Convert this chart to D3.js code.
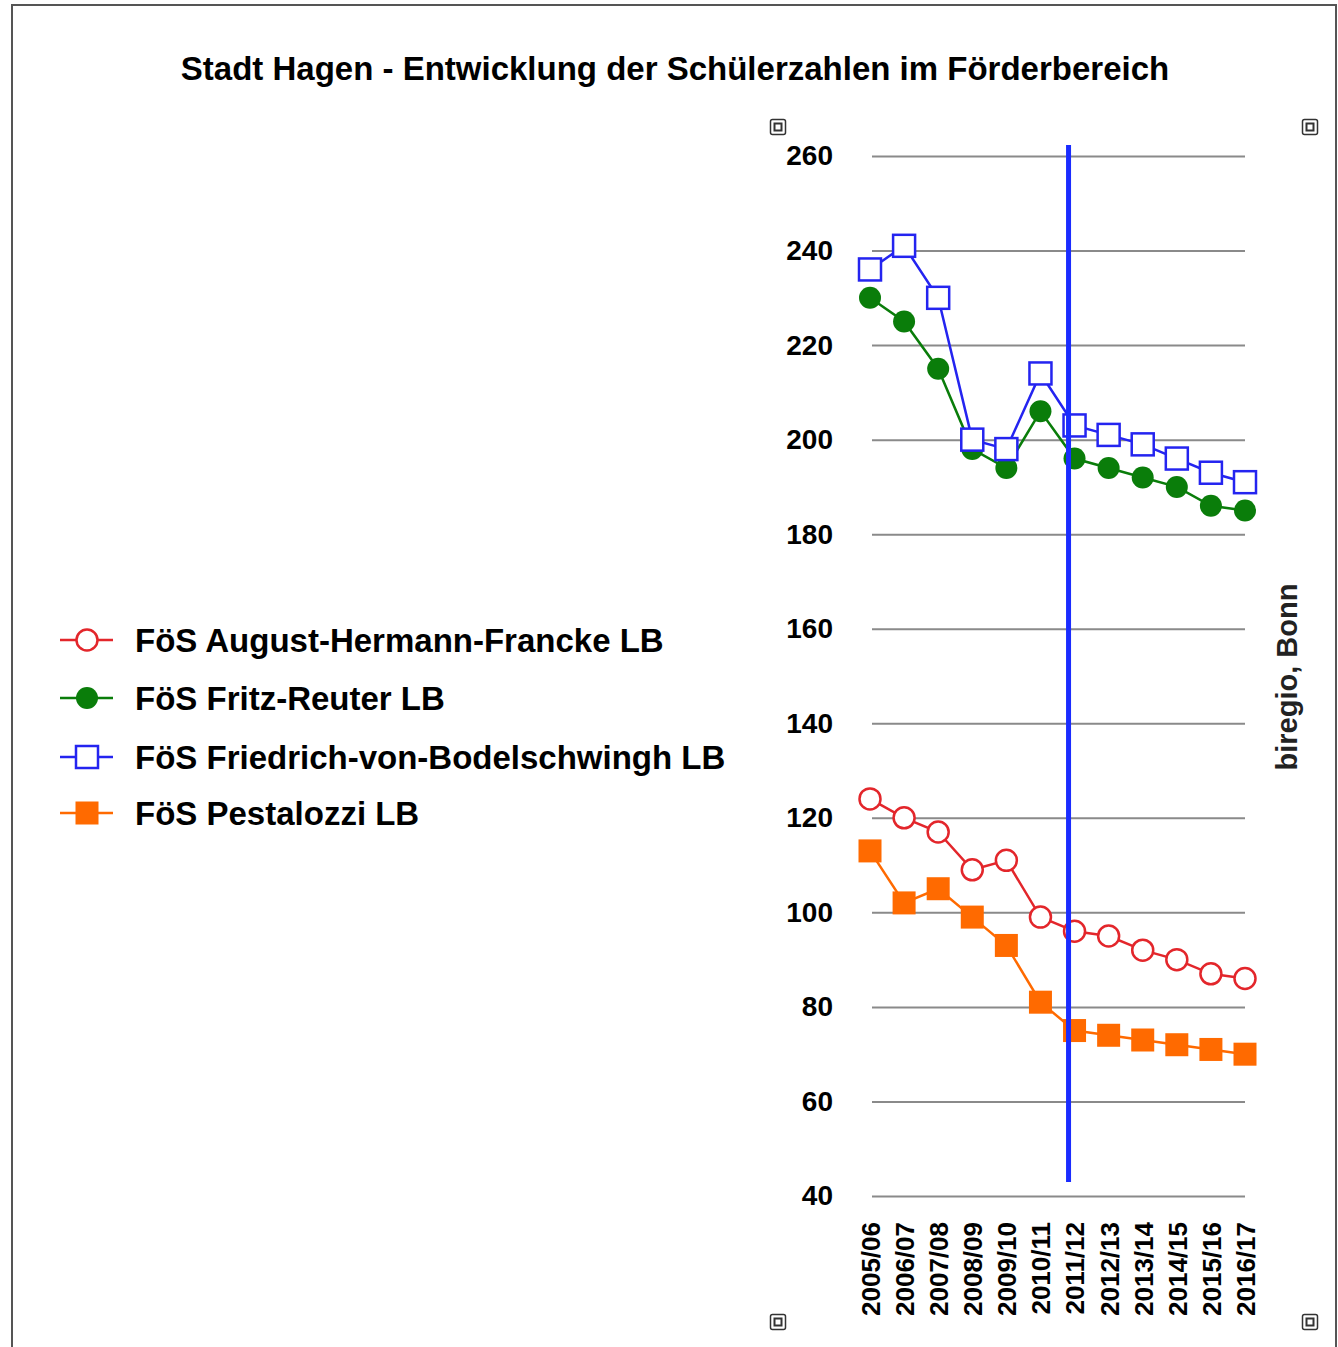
<!DOCTYPE html>
<html>
<head>
<meta charset="utf-8">
<script src="https://cdn.jsdelivr.net/npm/d3@7"></script>
<style>
  body { margin: 0; background: #fff; }
  svg { font-family: "Liberation Sans", Arial, sans-serif; }
</style>
</head>
<body>
<script>
// Stadt Hagen - Schülerzahlen im Förderbereich

var years = ["2005/06", "2006/07", "2007/08", "2008/09", "2009/10", "2010/11",
             "2011/12", "2012/13", "2013/14", "2014/15", "2015/16", "2016/17"];

var augustFrancke = [124, 120, 117, 109, 111, 99, 96, 95, 92, 90, 87, 86];
var fritzReuter = [230, 225, 215, 198, 194, 206, 196, 194, 192, 190, 186, 185];
var bodelschwingh = [236, 241, 230, 200, 198, 214, 203, 201, 199, 196, 193, 191];
var pestalozzi = [113, 102, 105, 99, 93, 81, 75, 74, 73, 72, 71, 70];

var seriesNames = ["FöS August-Hermann-Francke LB", "FöS Fritz-Reuter LB",
                   "FöS Friedrich-von-Bodelschwingh LB", "FöS Pestalozzi LB"];

var yTicks = [40, 60, 80, 100, 120, 140, 160, 180, 200, 220, 240, 260];
var splitYear = "2011/12";

var width = 1338, height = 1347;

var plot = {left: 870, right: 1245, top: 156, bottom: 1196};

var svg = d3.select("body").append("svg")
    .attr("width", width)
    .attr("height", height);

// frame
svg.append("rect")
    .attr("x", 12).attr("y", 5)
    .attr("width", 1324).attr("height", 1360)
    .attr("fill", "none")
    .attr("stroke", "#555")
    .attr("stroke-width", 2);

svg.append("text")
    .attr("x", 675).attr("y", 80)
    .attr("text-anchor", "middle")
    .attr("font-size", "33px")
    .attr("font-weight", "bold")
    .text("Stadt Hagen - Entwicklung der Schülerzahlen im Förderbereich");

var x = d3.scalePoint().domain(years).range([plot.left, plot.right]);
var y = d3.scaleLinear().domain([40, 260]).range([plot.bottom, plot.top]);

// y axis + gridlines
var yAxis = svg.append("g")
    .attr("transform", "translate(" + (plot.left + 2) + ",0)")
    .call(d3.axisLeft(y).tickValues(yTicks)
      .tickSize(-(plot.right - plot.left - 2)).tickPadding(39));
yAxis.select(".domain").remove();
yAxis.selectAll("line").attr("stroke", "#8a8a8a").attr("stroke-width", 2);
yAxis.selectAll("text")
    .attr("font-size", "28px")
    .attr("font-weight", "bold")
    .attr("fill", "#000")
    .attr("font-family", "Liberation Sans, Arial, sans-serif");

// x axis
var xAxis = svg.append("g")
    .attr("transform", "translate(0," + plot.bottom + ")")
    .call(d3.axisBottom(x).tickSize(0));
xAxis.select(".domain").remove();
xAxis.selectAll("text")
    .attr("transform", "rotate(-90)")
    .attr("x", -26).attr("y", 0).attr("dy", "0.36em")
    .attr("text-anchor", "end")
    .attr("font-size", "26px")
    .attr("font-weight", "bold")
    .attr("fill", "#000")
    .attr("font-family", "Liberation Sans, Arial, sans-serif");

var series = [
  {name: seriesNames[1], values: fritzReuter, color: "#0a7d0a", shape: "circle", filled: true},
  {name: seriesNames[2], values: bodelschwingh, color: "#2424f0", shape: "square", filled: false},
  {name: seriesNames[0], values: augustFrancke, color: "#e3262b", shape: "circle", filled: false},
  {name: seriesNames[3], values: pestalozzi, color: "#ff6a00", shape: "square", filled: true}
];

var line = d3.line()
    .x(function(d, i) { return x(years[i]); })
    .y(function(d) { return y(d); });

function drawMarker(g, s, cx, cy) {
  if (s.shape === "circle") {
    g.append("circle")
        .attr("cx", cx).attr("cy", cy)
        .attr("r", s.filled ? 11 : 10.5)
        .attr("fill", s.filled ? s.color : "#fff")
        .attr("stroke", s.color)
        .attr("stroke-width", s.filled ? 0 : 2.5);
  } else {
    var sz = s.filled ? 23 : 22;
    g.append("rect")
        .attr("x", cx - sz / 2).attr("y", cy - sz / 2)
        .attr("width", sz).attr("height", sz)
        .attr("fill", s.filled ? s.color : "#fff")
        .attr("stroke", s.color)
        .attr("stroke-width", s.filled ? 0 : 2.5);
  }
}

series.forEach(function(s) {
  var g = svg.append("g");
  g.append("path")
      .datum(s.values)
      .attr("d", line)
      .attr("fill", "none")
      .attr("stroke", s.color)
      .attr("stroke-width", 2.5);
  s.values.forEach(function(v, i) {
    drawMarker(g, s, x(years[i]), y(v));
  });
});

// separator line
svg.append("line")
    .attr("x1", x(splitYear) - 6).attr("x2", x(splitYear) - 6)
    .attr("y1", y(260) - 11).attr("y2", y(40) - 14)
    .attr("stroke", "#1a2cff")
    .attr("stroke-width", 5);

// legend
var legendOrder = [series[2], series[0], series[1], series[3]];
var legendY = [640, 698, 757, 813];
legendOrder.forEach(function(s, i) {
  var g = svg.append("g").attr("transform", "translate(0," + legendY[i] + ")");
  g.append("line")
      .attr("x1", 60).attr("x2", 113)
      .attr("stroke", s.color).attr("stroke-width", 2.5);
  drawMarker(g, s, 87, 0);
  g.append("text")
      .attr("x", 135).attr("y", 0).attr("dy", "0.36em")
      .attr("font-size", "33px")
      .attr("font-weight", "bold")
      .text(s.name);
});

// source
svg.append("text")
    .attr("transform", "translate(1297,677) rotate(-90)")
    .attr("text-anchor", "middle")
    .attr("font-size", "29px")
    .attr("font-weight", "bold")
    .attr("fill", "#222")
    .text("biregio, Bonn");

// selection handles
var handles = [[778, 127], [1310, 127], [778, 1322], [1310, 1322]];
handles.forEach(function(h) {
  svg.append("rect")
      .attr("x", h[0] - 7.5).attr("y", h[1] - 7.5)
      .attr("width", 15).attr("height", 15).attr("rx", 2)
      .attr("fill", "#fff").attr("stroke", "#333").attr("stroke-width", 1.5);
  svg.append("rect")
      .attr("x", h[0] - 3.5).attr("y", h[1] - 3.5)
      .attr("width", 7).attr("height", 7)
      .attr("fill", "none").attr("stroke", "#333").attr("stroke-width", 2);
});
</script>
</body>
</html>
